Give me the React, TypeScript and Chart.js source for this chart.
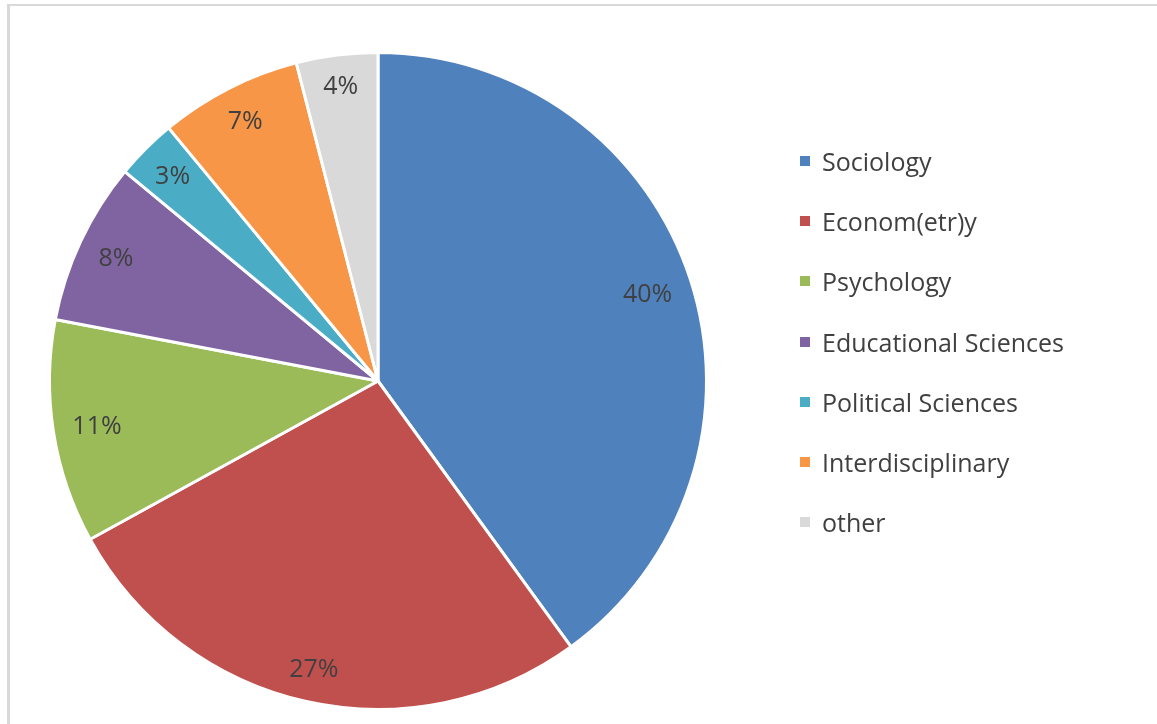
import React, { useEffect, useRef } from "react";
import { Chart, registerables } from "chart.js";

Chart.register(...registerables);

const labels = [
  "Sociology",
  "Econom(etr)y",
  "Psychology",
  "Educational Sciences",
  "Political Sciences",
  "Interdisciplinary",
  "other",
];
const values = [40, 27, 11, 8, 3, 7, 4];
const colors = ["#4F81BD", "#C0504D", "#9BBB59", "#8064A2", "#4BACC6", "#F79646", "#D9D9D9"];

const FONT = "'Open Sans', sans-serif";
const TEXT_COLOR = "#404040";

const labelPlugin = {
  id: "pctLabels",
  afterDatasetsDraw(chart: any) {
    const ctx = chart.ctx;
    const meta = chart.getDatasetMeta(0);
    const total = values.reduce((a, b) => a + b, 0);
    ctx.save();
    ctx.font = `25px ${FONT}`;
    ctx.fillStyle = TEXT_COLOR;
    ctx.textAlign = "center";
    ctx.textBaseline = "middle";
    meta.data.forEach((arc: any, i: number) => {
      const { x, y, startAngle, endAngle, outerRadius } = arc.getProps(
        ["x", "y", "startAngle", "endAngle", "outerRadius"],
        true
      );
      const mid = (startAngle + endAngle) / 2;
      const txt = Math.round((values[i] / total) * 100) + "%";
      const w = ctx.measureText(txt).width;
      const h = 20;
      const limit = outerRadius - 18;
      let d = limit;
      const cx = Math.cos(mid);
      const sy = Math.sin(mid);
      for (; d > 0; d -= 1) {
        const px = d * cx;
        const py = d * sy;
        let ok = true;
        for (const ox of [-w / 2, w / 2]) {
          for (const oy of [-h / 2, h / 2]) {
            if (Math.hypot(px + ox, py + oy) > limit) ok = false;
          }
        }
        if (ok) break;
      }
      ctx.fillText(txt, x + d * cx, y + d * sy + 1);
    });
    ctx.restore();
  },
};

export default function App() {
  const ref = useRef<HTMLCanvasElement | null>(null);
  useEffect(() => {
    if (!ref.current) return;
    const chart = new Chart(ref.current, {
      type: "pie",
      data: {
        labels,
        datasets: [
          {
            data: values,
            backgroundColor: colors,
            borderColor: "#ffffff",
            borderWidth: 3,
          },
        ],
      },
      options: {
        animation: false,
        responsive: false,
        maintainAspectRatio: false,
        layout: { padding: { left: 48, top: 51, right: 449, bottom: 13 } },
        plugins: {
          legend: { display: false },
          tooltip: { enabled: false },
        },
      },
      plugins: [labelPlugin],
    });
    return () => chart.destroy();
  }, []);

  return (
    <div
      style={{
        position: "absolute",
        left: 0,
        top: 0,
        width: 1157,
        height: 724,
        background: "#ffffff",
        overflow: "hidden",
        fontFamily: FONT,
      }}
    >
      <div
        style={{
          position: "absolute",
          left: 7,
          top: 4,
          width: 1200,
          height: 800,
          borderTop: "2px solid #d9d9d9",
          borderLeft: "3px solid #d9d9d9",
        }}
      />
      <canvas
        ref={ref}
        width={1157}
        height={724}
        style={{ position: "absolute", left: 0, top: 0, width: 1157, height: 724 }}
      />
      {labels.map((lab, i) => (
        <div
          key={lab}
          style={{
            position: "absolute",
            left: 800,
            top: 161 + i * 60.2 - 17,
            height: 34,
            display: "flex",
            alignItems: "center",
            whiteSpace: "nowrap",
          }}
        >
          <span
            style={{
              display: "inline-block",
              width: 10,
              height: 10,
              background: colors[i],
              marginRight: 12,
            }}
          />
          <span style={{ fontSize: 25, color: TEXT_COLOR, lineHeight: "34px" }}>{lab}</span>
        </div>
      ))}
    </div>
  );
}
